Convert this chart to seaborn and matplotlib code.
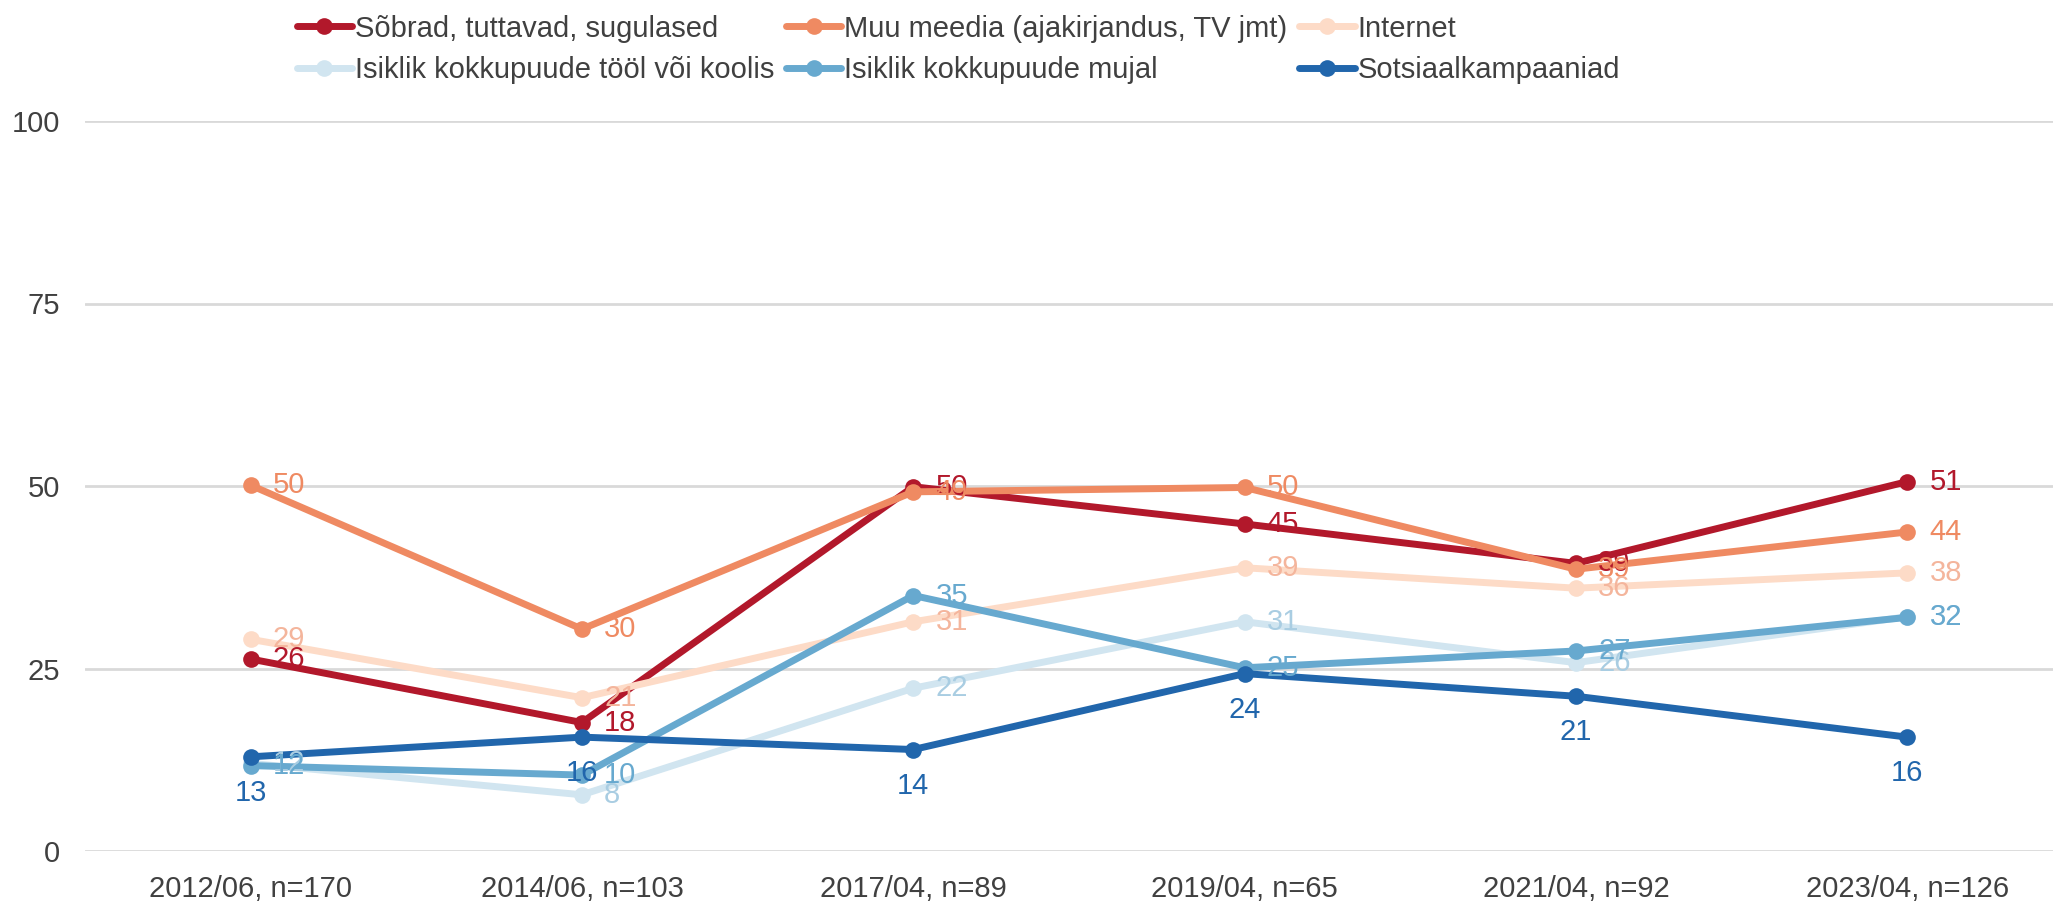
import matplotlib
matplotlib.use("Agg")
import matplotlib.pyplot as plt
from matplotlib.lines import Line2D
import pandas as pd
import seaborn as sns

# Andmed (loetud jooniselt)
perioodid = ["2012/06, n=170", "2014/06, n=103", "2017/04, n=89",
             "2019/04, n=65", "2021/04, n=92", "2023/04, n=126"]
sobrad = [26.3, 17.6, 49.9, 44.8, 39.4, 50.6]
meedia = [50.1, 30.4, 49.2, 49.8, 38.6, 43.7]
internet = [29.0, 21.0, 31.4, 38.8, 36.0, 38.1]
too_kool = [12.0, 7.7, 22.3, 31.4, 25.8, 32.1]
mujal = [11.7, 10.4, 35.0, 25.1, 27.4, 32.0]
kampaaniad = [12.9, 15.6, 13.9, 24.3, 21.2, 15.6]

nimed = ["Sõbrad, tuttavad, sugulased", "Muu meedia (ajakirjandus, TV jmt)",
         "Internet", "Isiklik kokkupuude tööl või koolis",
         "Isiklik kokkupuude mujal", "Sotsiaalkampaaniad"]
seeriad = [sobrad, meedia, internet, too_kool, mujal, kampaaniad]

# ColorBrewer RdBu, 6 klassi
varvid = ["#B2182B", "#EF8A62", "#FDDBC7", "#D1E5F0", "#67A9CF", "#2166AC"]
# heledamate seeriate sildid on veidi tumedamad
sildi_varvid = [varvid[0], varvid[1], "#F4B59C", "#A9CDE2", varvid[4], varvid[5]]

rows = []
for nimi, vals in zip(nimed, seeriad):
    for p, v in zip(perioodid, vals):
        rows.append({"periood": p, "vaartus": v, "seeria": nimi})
df = pd.DataFrame(rows)

sns.set_style("white")
plt.rcParams["font.family"] = ["Liberation Sans", "DejaVu Sans"]
tekst = "#404040"
fs = 21
lw = 5
ms = 12

fig = plt.figure(figsize=(20.53, 9.02), dpi=100)
ax = fig.add_axes([85 / 2053, 51 / 902, 1 - 85 / 2053, (851 - 121) / 902])

sns.lineplot(data=df, x="periood", y="vaartus", hue="seeria", hue_order=nimed,
             palette=varvid, marker="o", markersize=ms, markeredgewidth=0,
             linewidth=lw, sort=False, legend=False, ax=ax, clip_on=False)

# andmesildid
for i, (nimi, vals) in enumerate(zip(nimed, seeriad)):
    for j, v in enumerate(vals):
        if nimi == "Sotsiaalkampaaniad":
            ax.annotate(f"{round(v)}", (j, v), xytext=(0, -26), textcoords="offset points",
                        ha="center", va="center", fontsize=fs, color=sildi_varvid[i])
        else:
            ax.annotate(f"{round(v)}", (j, v), xytext=(16, 0), textcoords="offset points",
                        ha="left", va="center", fontsize=fs, color=sildi_varvid[i])

ax.set_ylim(0, 100)
ax.set_xlim(-0.5, 5.44)
ax.set_yticks([0, 25, 50, 75, 100])
ax.yaxis.grid(True, color="#D9D9D9", linewidth=2)
ax.xaxis.grid(False)
ax.set_axisbelow(True)
for s in ax.spines.values():
    s.set_visible(False)
ax.tick_params(axis="y", length=0, pad=18, labelsize=fs, labelcolor=tekst)
ax.tick_params(axis="x", length=0, pad=17, labelsize=fs, labelcolor=tekst)
ax.set_xlabel("")
ax.set_ylabel("")

# legend: 3 veergu, read vasakult paremale
handles = [Line2D([], [], color=c, linewidth=lw, marker="o", markersize=ms,
                  markeredgewidth=0) for c in varvid]
jarjekord = [0, 3, 1, 4, 2, 5]
fig.legend([handles[k] for k in jarjekord], [nimed[k] for k in jarjekord],
           ncol=3, loc="upper left", bbox_to_anchor=(282 / 2053, 1.0),
           frameon=False, fontsize=fs, handlelength=1.9, handletextpad=0.1,
           columnspacing=0.4, labelspacing=0.45, borderaxespad=0.1,
           labelcolor=tekst)

fig.savefig("out.png", dpi=100)
